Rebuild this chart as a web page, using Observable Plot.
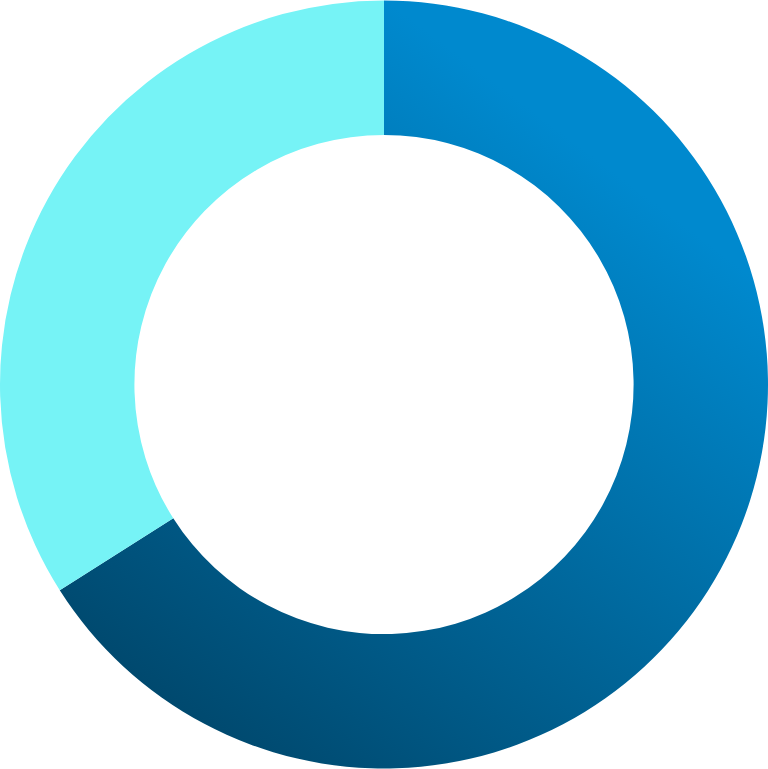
<!DOCTYPE html>
<html>
<head>
<meta charset="utf-8">
<script src="https://cdn.jsdelivr.net/npm/d3@7"></script>
<script src="https://cdn.jsdelivr.net/npm/@observablehq/plot@0.6"></script>
<style>
  html, body { margin: 0; padding: 0; background: #ffffff; }
  #chart svg { display: block; }
</style>
</head>
<body>
<div id="chart"></div>
<script>
// ---- Data ----
const categories = ["Segment A", "Segment B"];
const values = [66, 34];
const segmentColors = ["url(#segA-gradient)", "#76F3F6"];
const gradientStops = ["#0089CE", "#004264"];
const innerRadiusRatio = 0.65;

const data = categories.map((c, i) => ({ category: c, value: values[i], color: segmentColors[i] }));

function donutMark(index, scales, vals, dimensions, context) {
  const cx = scales.x(0);
  const cy = scales.y(0);
  const r = Math.min(scales.x(1) - cx, cy - scales.y(1));
  const arcs = d3.pie().sort(null).value(d => d.value)(data);
  const arc = d3.arc().innerRadius(r * innerRadiusRatio).outerRadius(r);

  const g = d3.create("svg:g");
  const defs = g.append("defs");
  const tilt = 37 * Math.PI / 180;
  const grad = defs.append("linearGradient")
    .attr("id", "segA-gradient")
    .attr("gradientUnits", "userSpaceOnUse")
    .attr("x1", cx + r * Math.sin(tilt))
    .attr("y1", cy - r * Math.cos(tilt))
    .attr("x2", cx - r * Math.sin(tilt))
    .attr("y2", cy + r * Math.cos(tilt));
  grad.append("stop").attr("offset", "0%").attr("stop-color", gradientStops[0]);
  grad.append("stop").attr("offset", "100%").attr("stop-color", gradientStops[1]);

  g.attr("transform", `translate(${cx},${cy})`)
    .selectAll("path")
    .data(arcs)
    .join("path")
    .attr("d", arc)
    .attr("fill", d => d.data.color);
  return g.node();
}

const chart = Plot.plot({
  width: 768,
  height: 769,
  margin: 0,
  x: { domain: [-1, 1], axis: null },
  y: { domain: [-1, 1], axis: null },
  marks: [donutMark]
});

document.getElementById("chart").appendChild(chart);
</script>
</body>
</html>
